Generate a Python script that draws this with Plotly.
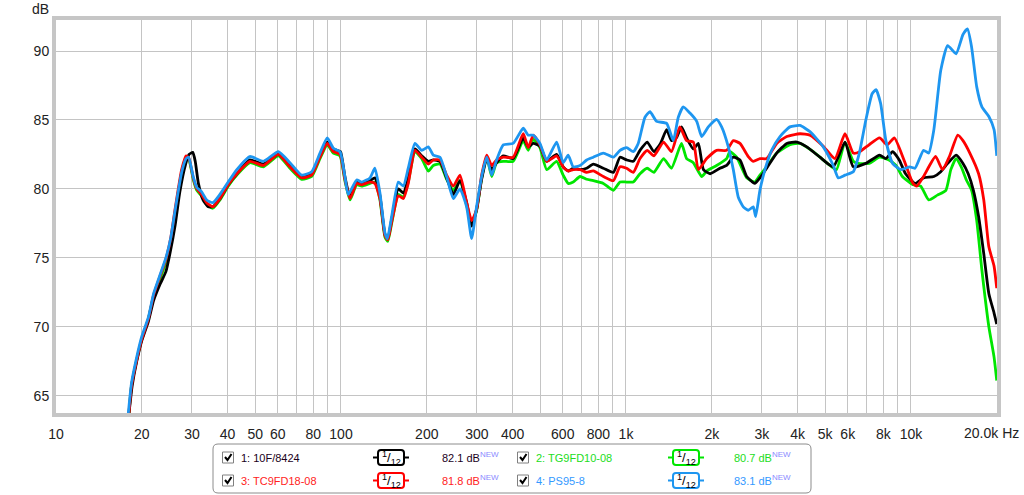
import math
import plotly.graph_objects as go

# ---------------- data ----------------
BLACK_F = [18.0, 18.5, 19.2, 20.0, 21.1, 22.0, 23.2, 24.3, 25.1, 26.2,
           27.2, 28.5, 29.3, 30.2, 30.8, 31.6, 32.8, 34.2, 35.5, 37.6,
           40.2, 43.1, 47.9, 53.4, 60.3, 66.2, 72.8, 78.9, 84.4, 89.5,
           94, 96.6, 99.6, 103.2, 107.6, 113.5, 118.2, 126.4, 131.5, 137,
           142.7, 146, 150.6, 158.9, 165.5, 172.2, 181.8, 192, 202.5, 210.8,
           222.5, 234.8, 247.9, 261.5, 276, 287.4, 299, 311.6, 324.6, 338,
           351.6, 371, 402, 436, 454, 473, 499, 527, 571, 602,
           627, 653, 690, 728, 768, 833, 903, 953, 1005, 1061,
           1120, 1187, 1253, 1322, 1389, 1444, 1502, 1566, 1632, 1723,
           1794, 1870, 1974, 2137, 2256, 2380, 2512, 2652, 2829, 2951,
           3116, 3380, 3667, 3976, 4311, 4795, 5338, 5868, 6277, 6946,
           7760, 8166, 8620, 9098, 9571, 10332, 11067, 12034, 12724, 13453,
           14402, 15226, 15880, 16560, 17273, 18010, 18765, 19570, 20000]
BLACK_DB = [63.55, 65.7, 67.5, 69.0, 70.4, 71.9, 73.1, 74.0, 75.3, 77.4,
            79.8, 81.8, 82.5, 82.65, 82.0, 80.4, 79.2, 78.7, 78.7, 79.3,
            80.3, 81.1, 82.1, 81.8, 82.5, 81.7, 80.85, 81.1, 82.4, 83.4,
            82.9, 82.8, 82.7, 80.9, 79.4, 80.5, 80.4, 80.6, 80.8, 79.5,
            76.7, 76.4, 77.8, 80.0, 79.7, 80.8, 82.9, 82.4, 82.0, 82.1,
            82.0, 80.8, 79.6, 80.6, 79.0, 77.3, 78.5, 80.7, 82.2, 81.4,
            81.9, 82.4, 82.2, 83.7, 83.05, 83.3, 83.1, 82.0, 82.5, 81.6,
            81.3, 81.5, 81.4, 81.5, 81.8, 81.5, 81.2, 82.3, 82.1, 82.0,
            82.8, 83.4, 82.7, 83.3, 84.3, 83.5, 83.7, 84.5, 83.7, 82.9,
            83.3, 81.4, 81.1, 81.5, 81.7, 82.3, 82.1, 80.9, 80.4, 80.8,
            81.5, 82.6, 83.3, 83.4, 83.05, 82.3, 81.6, 83.4, 81.6, 81.85,
            82.45, 82.2, 82.7, 82.1, 81.1, 80.4, 80.8, 80.9, 81.25, 81.85,
            82.45, 81.85, 81.1, 79.9, 78.0, 75.3, 72.4, 71.0, 70.2]

GREEN_F = [18.0, 18.4, 19.2, 20.0, 21.1, 22.0, 23.2, 24.3, 25.3, 26.2,
           27.6, 28.6, 29.3, 30.3, 31.2, 32.4, 33.8, 35.5, 37.6, 40.2,
           43.1, 47.9, 53.4, 60.3, 66.2, 72.8, 78.9, 84.4, 89.5, 94,
           99.2, 103.2, 107.6, 113.5, 118.2, 126.4, 131.5, 137, 142.7, 146,
           150.6, 158.9, 165.5, 172.2, 181.8, 192, 202.5, 210.8, 222.5, 234.8,
           247.9, 261.5, 276, 287.4, 299, 311.6, 324.6, 338, 351.6, 371,
           402, 436, 454, 473, 499, 527, 571, 602, 627, 653,
           690, 728, 768, 833, 903, 953, 1005, 1061, 1120, 1187,
           1253, 1355, 1444, 1566, 1632, 1723, 1844, 1920, 2080, 2256,
           2315, 2445, 2652, 2829, 2951, 3116, 3380, 3761, 4079, 4541,
           5200, 5480, 5868, 6277, 6520, 7128, 7760, 8370, 8866, 9330,
           10165, 10820, 11540, 12380, 13260, 13800, 14402, 15010, 15650, 16318,
           17013, 17740, 18765, 19570, 20000]
GREEN_DB = [63.55, 65.7, 67.6, 69.1, 70.6, 72.2, 73.5, 74.7, 76.3, 78.3,
            81.2, 82.3, 82.1, 80.7, 79.9, 79.5, 78.9, 78.6, 79.2, 80.2,
            81.0, 81.9, 81.6, 82.4, 81.5, 80.7, 80.9, 82.2, 83.2, 82.6,
            82.4, 80.6, 79.2, 80.3, 80.2, 80.4, 80.5, 79.2, 76.5, 76.2,
            77.5, 79.6, 79.4, 80.5, 82.7, 82.2, 81.3, 81.7, 81.8, 80.7,
            79.9, 80.6, 78.8, 77.5, 78.4, 80.8, 82.3, 80.9, 81.9, 82.0,
            82.0, 83.5, 82.8, 83.6, 83.0, 81.4, 82.0, 81.0, 80.4, 80.5,
            80.9, 80.7, 80.6, 80.4, 79.9, 80.5, 80.5, 80.5, 81.1, 81.5,
            81.2, 82.2, 81.5, 83.3, 82.2, 81.9, 80.9, 81.3, 81.7, 82.2,
            82.7, 82.3, 80.8, 80.5, 81.0, 81.6, 82.6, 83.2, 83.3, 82.7,
            81.7, 81.4, 83.4, 82.0, 81.85, 81.85, 82.3, 82.1, 81.7, 80.9,
            80.3, 80.2, 79.2, 79.55, 79.9, 81.4, 82.2, 81.6, 80.65, 79.9,
            77.7, 74.1, 70.0, 67.8, 66.1]

RED_F = [18.0, 18.4, 19.2, 20.0, 21.1, 22.0, 23.2, 24.3, 25.3, 26.2,
         27.6, 28.6, 29.3, 30.3, 31.2, 32.4, 33.8, 35.5, 37.6, 40.2,
         43.1, 47.9, 53.4, 60.3, 66.2, 72.8, 78.9, 84.4, 89.5, 94,
         99.2, 103.2, 107.6, 113.5, 118.2, 126.4, 131.5, 137, 142.7, 146,
         150.6, 158.9, 165.5, 172.2, 181.8, 192, 202.5, 210.8, 222.5, 234.8,
         247.9, 261.5, 276, 287.4, 299, 311.6, 324.6, 338, 351.6, 371,
         402, 436, 454, 473, 499, 527, 571, 602, 627, 653,
         690, 728, 768, 833, 903, 953, 1005, 1061, 1120, 1187,
         1253, 1355, 1444, 1545, 1632, 1723, 1794, 1920, 2080, 2256,
         2380, 2512, 2686, 2797, 2951, 3116, 3380, 3667, 4079, 4422,
         4923, 5410, 5868, 6277, 6608, 7128, 7760, 8253, 8740, 9450,
         10165, 10480, 11067, 12200, 12900, 13640, 14600, 15226, 16090, 17273,
         18010, 18765, 19570, 20000]
RED_DB = [63.55, 65.7, 67.6, 69.1, 70.6, 72.3, 73.7, 74.9, 76.5, 78.6,
          81.4, 82.4, 82.2, 80.8, 80.0, 79.6, 79.0, 78.7, 79.3, 80.3,
          81.1, 82.0, 81.7, 82.5, 81.6, 80.8, 81.0, 82.3, 83.3, 82.7,
          82.5, 80.7, 79.3, 80.4, 80.3, 80.5, 80.4, 79.3, 76.6, 76.3,
          77.6, 79.5, 79.3, 80.4, 82.8, 82.3, 81.8, 82.1, 82.1, 81.0,
          80.2, 81.0, 79.0, 77.7, 78.5, 81.0, 82.45, 81.7, 82.1, 82.3,
          82.3, 84.0, 83.0, 83.9, 83.2, 82.0, 82.4, 81.6, 81.3, 81.4,
          81.4, 81.2, 81.3, 80.9, 80.6, 81.6, 81.5, 81.2, 82.2, 82.8,
          82.4, 83.4, 82.7, 84.5, 83.5, 83.4, 81.4, 82.2, 82.8, 82.8,
          83.5, 83.3, 82.35, 82.0, 82.2, 82.2, 83.3, 83.8, 84.0, 83.9,
          83.1, 82.2, 84.0, 82.6, 82.7, 83.2, 83.7, 83.2, 83.7, 82.1,
          80.4, 80.2, 80.9, 82.35, 81.4, 82.35, 83.9, 83.5, 82.6, 81.1,
          79.2, 75.8, 74.4, 72.8]

BLUE_F = [17.9, 18.4, 19.2, 20.0, 21.1, 22.0, 23.2, 24.3, 25.3, 26.2,
          27.6, 28.6, 29.2, 30.3, 31.2, 32.4, 33.8, 35.5, 37.6, 40.2,
          43.1, 47.9, 53.4, 60.3, 66.2, 72.8, 78.9, 84.4, 89.5, 94,
          99.2, 103.2, 106, 113.5, 118.2, 126.4, 131.5, 137, 142.7, 145.5,
          150.6, 158.9, 165.5, 172.2, 181.8, 192, 202.5, 210.8, 222.5, 234.8,
          247.9, 261.5, 276, 287.4, 299, 311.6, 324.6, 338, 351.6, 371,
          402, 436, 454, 473, 499, 527, 571, 602, 627, 653,
          690, 728, 768, 833, 903, 953, 1005, 1061, 1104, 1166,
          1214, 1281, 1389, 1466, 1526, 1589, 1677, 1771, 1844, 1945,
          2080, 2166, 2286, 2380, 2478, 2580, 2686, 2797, 2851, 2951,
          3074, 3243, 3471, 3761, 4079, 4422, 4923, 5338, 5559, 5868,
          6277, 6449, 6608, 6946, 7308, 7543, 7826, 8166, 8620, 9233,
          9908, 10332, 11067, 11540, 12034, 12724, 13453, 14402, 15226, 15785,
          16318, 17013, 17740, 18765, 19570, 20000]
BLUE_DB = [63.55, 65.9, 67.8, 69.3, 70.7, 72.4, 73.8, 75.0, 76.5, 78.5,
           81.2, 82.2, 82.3, 80.9, 80.1, 79.8, 79.2, 79.0, 79.6, 80.5,
           81.4, 82.35, 82.0, 82.7, 81.9, 81.0, 81.25, 82.6, 83.7, 82.95,
           82.7, 80.9, 79.6, 80.65, 80.5, 80.8, 81.5, 79.7, 76.8, 76.4,
           78.0, 80.5, 80.2, 81.5, 83.3, 82.8, 83.05, 82.45, 82.3, 80.9,
           79.3, 80.0, 78.7, 76.4, 78.7, 80.9, 82.3, 81.0, 82.1, 83.2,
           83.3, 84.4, 83.9, 83.9, 83.3, 82.1, 83.4, 81.9, 82.45, 81.6,
           81.7, 82.1, 82.3, 82.6, 82.3, 82.8, 83.0, 82.7, 83.3, 85.2,
           85.6, 84.9, 84.75, 83.5, 85.2, 85.95, 85.5, 84.9, 83.8, 84.5,
           85.05, 84.5, 83.05, 81.4, 79.4, 78.7, 78.45, 78.7, 78.0, 79.9,
           81.4, 82.8, 83.8, 84.5, 84.6, 84.15, 83.05, 81.7, 80.8, 81.0,
           81.25, 81.9, 82.7, 85.0, 86.9, 87.2, 86.2, 83.5, 81.85, 81.4,
           81.6, 81.5, 82.8, 82.6, 84.3, 88.6, 90.4, 89.8, 91.2, 91.6,
           90.3, 87.4, 85.95, 85.25, 84.3, 82.4]

SERIES_NAMES = ["1: 10F/8424", "2: TG9FD10-08", "3: TC9FD18-08", "4: PS95-8"]
SERIES_LEVELS = ["82.1 dB", "80.7 dB", "81.8 dB", "83.1 dB"]
LINE_COLORS = ["#000000", "#00e600", "#ff0000", "#1e96f0"]
TEXT_COLORS = ["#1a001a", "#22dd22", "#ff2222", "#3399ff"]

X_TICK_VALS = [10, 20, 30, 40, 50, 60, 70, 80, 90,
               100, 200, 300, 400, 500, 600, 700, 800, 900,
               1000, 2000, 3000, 4000, 5000, 6000, 7000, 8000, 9000,
               10000, 20000]
X_TICK_TEXT = ["10", "20", "30", "40", "50", "60", "", "80", "",
               "100", "200", "300", "400", "", "600", "", "800", "",
               "1k", "2k", "3k", "4k", "5k", "6k", "", "8k", "",
               "10k", ""]
Y_TICK_VALS = [65, 70, 75, 80, 85, 90]

# ---------------- layout geometry (pixels) ----------------
W, H = 1024, 495
PL, PR, PT, PB = 56, 997, 20, 413
X_MIN, X_MAX = 10, 20040
Y_MIN, Y_MAX = 63.75, 92.25
FONT = "Liberation Sans, Arial"


def px(x):
    return (x - PL) / (PR - PL)


def py(y):
    return (PB - y) / (PB - PT)


def rrect(x0, y0, x1, y1, r):
    a, b = px(x0), px(x1)
    c, d = py(y0), py(y1)
    rx = r / (PR - PL)
    ry = r / (PB - PT)
    return (f"M {a+rx},{c} L {b-rx},{c} Q {b},{c} {b},{c-ry} "
            f"L {b},{d+ry} Q {b},{d} {b-rx},{d} L {a+rx},{d} "
            f"Q {a},{d} {a},{d+ry} L {a},{c-ry} Q {a},{c} {a+rx},{c} Z")


fig = go.Figure()
order = [1, 0, 2, 3]
data = [(BLACK_F, BLACK_DB), (GREEN_F, GREEN_DB), (RED_F, RED_DB), (BLUE_F, BLUE_DB)]
for i in order:
    f, d = data[i]
    fig.add_trace(go.Scatter(x=f, y=d, mode="lines", name=SERIES_NAMES[i],
                             line=dict(color=LINE_COLORS[i], width=2.8, shape="spline", smoothing=0.5),
                             showlegend=False, hoverinfo="skip", cliponaxis=True))

shapes = []
annotations = []

# legend box
shapes.append(dict(type="path", xref="paper", yref="paper",
                   path=rrect(213, 444, 811, 493, 5),
                   line=dict(color="#8c8c8c", width=1), fillcolor="white"))

rows_y = [457.5, 480.5]
col_dx = [0, 295]
for i in range(4):
    row = 0 if i in (0, 1) else 1
    col = 0 if i in (0, 2) else 1
    yy = rows_y[row]
    dx = col_dx[col]
    # checkbox
    shapes.append(dict(type="rect", xref="paper", yref="paper",
                       x0=px(222.5 + dx), x1=px(233.5 + dx), y0=py(yy - 5.5), y1=py(yy + 5.5),
                       line=dict(color="#808080", width=1), fillcolor="white"))
    shapes.append(dict(type="path", xref="paper", yref="paper",
                       path=f"M {px(225+dx)},{py(yy-0.5)} L {px(227.5+dx)},{py(yy+2.5)} L {px(231.5+dx)},{py(yy-3.5)}",
                       line=dict(color="#000000", width=2)))
    annotations.append(dict(xref="paper", yref="paper", x=px(239 + dx), y=py(yy),
                            text=SERIES_NAMES[i], showarrow=False, xanchor="left", yanchor="middle",
                            font=dict(family=FONT, size=11, color=TEXT_COLORS[i])))
    # smoothing symbol
    sc = 391 + dx
    shapes.append(dict(type="line", xref="paper", yref="paper",
                       x0=px(sc - 18), x1=px(sc + 18), y0=py(yy), y1=py(yy),
                       line=dict(color=LINE_COLORS[i], width=2)))
    shapes.append(dict(type="path", xref="paper", yref="paper",
                       path=rrect(sc - 13, yy - 7.5, sc + 13, yy + 7.5, 3),
                       line=dict(color=LINE_COLORS[i], width=2), fillcolor="white"))
    annotations.append(dict(xref="paper", yref="paper", x=px(sc), y=py(yy),
                            text="<sup>1</sup>/<sub>12</sub>", showarrow=False,
                            xanchor="center", yanchor="middle",
                            font=dict(family=FONT, size=13, color="#000000")))
    # level
    vx = 440 + dx - (3 if col else 0)
    annotations.append(dict(xref="paper", yref="paper", x=px(vx), y=py(yy),
                            text=SERIES_LEVELS[i], showarrow=False, xanchor="left", yanchor="middle",
                            font=dict(family=FONT, size=11, color=TEXT_COLORS[i])))
    annotations.append(dict(xref="paper", yref="paper", x=px(vx + 38), y=py(yy - 3),
                            text="NEW", showarrow=False, xanchor="left", yanchor="middle",
                            font=dict(family=FONT, size=8, color="#8a8aff")))

# axis titles
annotations.append(dict(xref="paper", yref="paper", x=px(51), y=py(9),
                        text="dB", showarrow=False, xanchor="right", yanchor="middle",
                        font=dict(family=FONT, size=14, color="#222222")))
annotations.append(dict(xref="paper", yref="paper", x=px(1021), y=py(433),
                        text="20.0k Hz", showarrow=False, xanchor="right", yanchor="middle",
                        font=dict(family=FONT, size=14, color="#222222")))

fig.update_layout(
    template="none",
    width=W, height=H, autosize=False,
    margin=dict(l=PL, r=W - PR, t=PT, b=H - PB, pad=0),
    paper_bgcolor="white", plot_bgcolor="white",
    showlegend=False,
    shapes=shapes, annotations=annotations,
    font=dict(family=FONT, size=14, color="#222222"),
    xaxis=dict(type="log", range=[math.log10(X_MIN), math.log10(X_MAX)], automargin=False,
               tickvals=X_TICK_VALS, ticktext=X_TICK_TEXT, ticklabelstandoff=5,
               showgrid=True, gridcolor="#c4c4c4", gridwidth=1,
               showline=True, mirror=True, linecolor="#c6c6c6", linewidth=4,
               ticks="", zeroline=False, tickfont=dict(size=14, color="#222222")),
    yaxis=dict(range=[Y_MIN, Y_MAX], tickvals=Y_TICK_VALS, automargin=False,
               showgrid=True, gridcolor="#c4c4c4", gridwidth=1,
               showline=True, mirror=True, linecolor="#c6c6c6", linewidth=4,
               ticks="", zeroline=False, tickfont=dict(size=14, color="#222222")),
)

fig.write_html(
    "out.html",
    config={"displayModeBar": False},
    post_script="document.body.style.margin='0';document.body.style.padding='0';"
                "document.body.style.overflow='hidden';",
)
